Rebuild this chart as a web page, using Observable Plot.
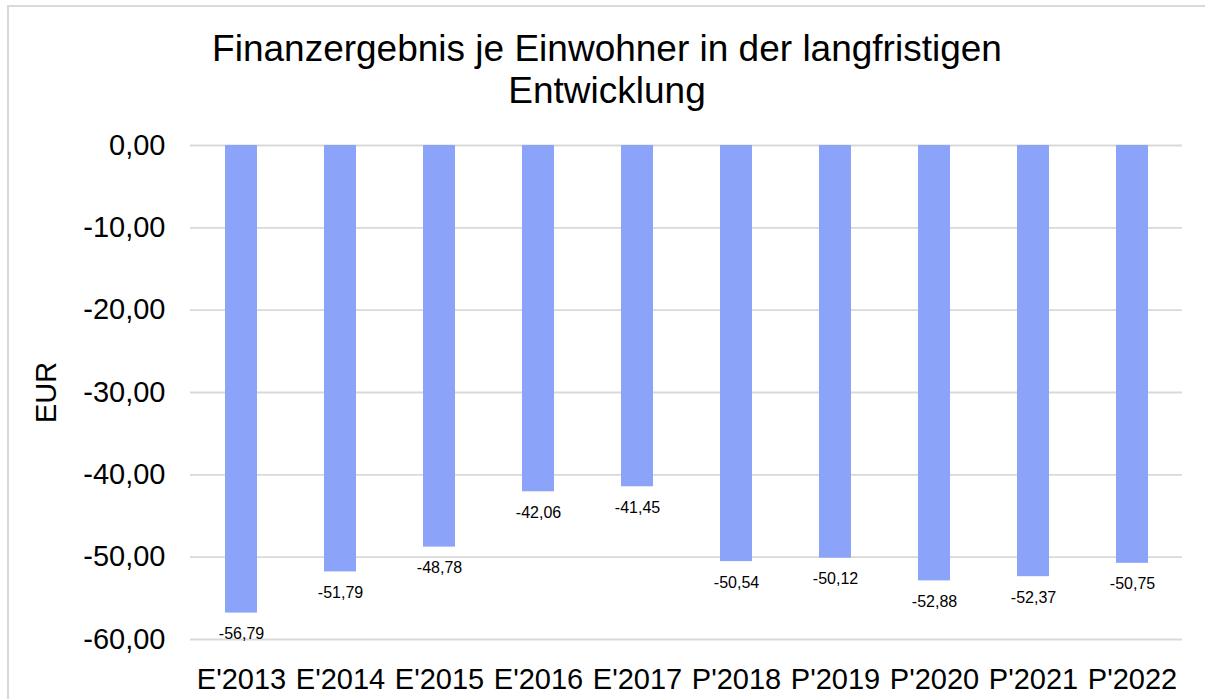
<!DOCTYPE html>
<html><head><meta charset="utf-8">
<script src="https://cdn.jsdelivr.net/npm/d3@7"></script>
<script src="https://cdn.jsdelivr.net/npm/@observablehq/plot@0.6"></script>
<style>
body{margin:0;background:#fff;font-family:"Liberation Sans",Arial,sans-serif;}
#wrap{position:relative;width:1205px;height:699px;overflow:hidden;}
#frame{position:absolute;left:7px;top:5px;width:1200px;height:710px;border:2px solid #d9d9d9;box-sizing:border-box;}
#title{position:absolute;left:7px;width:1200px;top:28px;text-align:center;font-size:37px;line-height:42px;color:#000;}
#chart{position:absolute;left:0;top:120px;}
</style></head>
<body>
<div id="wrap"><div id="frame"></div>
<div id="title">Finanzergebnis je Einwohner in der langfristigen<br>Entwicklung</div>
<div id="chart"></div></div>
<script>
const categories = ["E'2013","E'2014","E'2015","E'2016","E'2017","P'2018","P'2019","P'2020","P'2021","P'2022"];
const values = [-56.79,-51.79,-48.78,-42.06,-41.45,-50.54,-50.12,-52.88,-52.37,-50.75];
const yTicks = [0,-10,-20,-30,-40,-50,-60];
const data = categories.map((c,i)=>({cat:c, v:values[i]}));
const fmt = d => (Math.abs(d) < 1e-9 ? 0 : d).toFixed(2).replace(".", ",");
const plot = Plot.plot({
  width:1205, height:579,
  marginTop:25, marginBottom:60, marginLeft:190, marginRight:23,
  style:{fontFamily:"'Liberation Sans', Arial, sans-serif", color:"#000", background:"transparent"},
  x:{domain:categories, paddingInner:0.68, paddingOuter:0.34, align:0.5},
  y:{domain:[-60,0]},
  marks:[
    Plot.ruleY(yTicks,{stroke:"#d9d9d9", strokeWidth:1.8}),
    Plot.barY(data,{x:"cat", y:"v", fill:"#8ba4f9"}),
    Plot.text(data,{x:"cat", y:"v", text:d=>fmt(d.v), dy:21, fontSize:16, fill:"#000"}),
    Plot.axisX({tickSize:0, tickPadding:29, fontSize:29, label:null}),
    Plot.axisY(yTicks,{tickSize:0, tickPadding:25, fontSize:29, tickFormat:fmt, label:"EUR", labelAnchor:"center", labelOffset:155, labelArrow:"none"})
  ]
});
document.getElementById("chart").appendChild(plot);
</script>
</body></html>
